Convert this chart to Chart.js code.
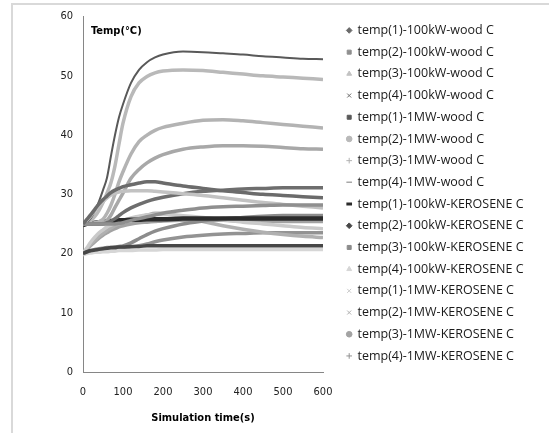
<!DOCTYPE html>
<html>
<head>
<meta charset="utf-8">
<script src="https://cdn.jsdelivr.net/npm/chart.js@4.4.0/dist/chart.umd.min.js"></script>
<style>
  html, body { margin: 0; padding: 0; background: #fff; overflow: hidden; }
  #frame { position: absolute; left: 11px; top: 3px; width: 620px; height: 520px; border: 2px solid #d9d9d9; }
  #wrap { position: absolute; left: 0; top: 0; width: 549px; height: 433px; }
</style>
</head>
<body>
<div id="frame"></div>
<div id="wrap"><canvas id="chart"></canvas></div>
<script>
// simulation time (s)
const times = [0, 10, 20, 30, 40, 50, 60, 70, 80, 90, 100, 120, 140, 160, 180, 200, 250, 300, 350, 400, 450, 500, 550, 600];

const seriesNames = [
    'temp(1)-100kW-wood C', 'temp(2)-100kW-wood C', 'temp(3)-100kW-wood C', 'temp(4)-100kW-wood C',
    'temp(1)-1MW-wood C', 'temp(2)-1MW-wood C', 'temp(3)-1MW-wood C', 'temp(4)-1MW-wood C',
    'temp(1)-100kW-KEROSENE C', 'temp(2)-100kW-KEROSENE C', 'temp(3)-100kW-KEROSENE C', 'temp(4)-100kW-KEROSENE C',
    'temp(1)-1MW-KEROSENE C', 'temp(2)-1MW-KEROSENE C', 'temp(3)-1MW-KEROSENE C', 'temp(4)-1MW-KEROSENE C'
];

const wood100k_1 = [25, 25.8, 26.6, 27.5, 28.4, 29.1, 29.7, 30.3, 30.7, 31, 31.3, 31.6, 31.9, 32.1, 32.1, 31.9, 31.4, 31, 30.6, 30.3, 30, 29.8, 29.6, 29.4];
const wood100k_2 = [25, 25, 25, 25, 25, 25, 25, 25, 25, 25.1, 25.2, 25.6, 25.9, 26.2, 26.5, 26.8, 27.3, 27.7, 27.9, 28, 28.1, 28.2, 28.2, 28.2];
const wood100k_3 = [25, 25.6, 26.4, 27.3, 28.1, 28.8, 29.4, 29.9, 30.2, 30.4, 30.5, 30.6, 30.6, 30.6, 30.5, 30.4, 30.1, 29.8, 29.4, 29, 28.6, 28.3, 28, 27.7];
const wood100k_4 = [25, 25, 25, 25, 25, 25, 25.2, 25.5, 25.9, 26.4, 26.9, 27.7, 28.3, 28.8, 29.2, 29.5, 30.1, 30.5, 30.7, 30.9, 31, 31.1, 31.1, 31.1];

const wood1M_1 = [25, 25.3, 26, 27.2, 28.8, 30.7, 32.8, 36.5, 40, 43, 45.2, 48.8, 51, 52.3, 53.1, 53.6, 54.1, 54, 53.8, 53.6, 53.3, 53.1, 52.9, 52.8];
const wood1M_2 = [25, 25.2, 25.6, 26.3, 27.3, 28.6, 30.2, 32, 34.8, 38.5, 42, 46.5, 48.8, 49.9, 50.5, 50.8, 51, 50.9, 50.6, 50.3, 50, 49.8, 49.6, 49.4];
const wood1M_3 = [25, 25, 25.1, 25.2, 25.4, 25.8, 26.8, 28.2, 30, 32.1, 33.8, 36.8, 38.9, 40, 40.8, 41.3, 42, 42.5, 42.6, 42.4, 42.1, 41.8, 41.5, 41.2];
const wood1M_4 = [25, 25, 25, 25, 25, 25.2, 25.6, 26.5, 27.8, 29, 30.2, 32.7, 34.2, 35.3, 36.1, 36.7, 37.6, 38, 38.2, 38.2, 38.1, 37.9, 37.7, 37.6];

const ker100k_1 = [24.8, 25, 25.1, 25.2, 25.3, 25.4, 25.4, 25.5, 25.5, 25.6, 25.6, 25.7, 25.7, 25.8, 25.8, 25.8, 25.9, 25.9, 25.9, 25.9, 25.9, 25.9, 25.9, 25.9];
const ker100k_2 = [20, 20.3, 20.5, 20.6, 20.7, 20.8, 20.9, 21, 21, 21.1, 21.1, 21.2, 21.2, 21.3, 21.3, 21.3, 21.3, 21.3, 21.3, 21.3, 21.3, 21.3, 21.3, 21.3];
const ker100k_3 = [20, 20.3, 20.5, 20.7, 20.8, 20.9, 21, 21, 21.1, 21.2, 21.3, 21.8, 22.5, 23.2, 23.8, 24.2, 25, 25.5, 25.9, 26.1, 26.3, 26.4, 26.4, 26.4];
const ker100k_4 = [19.8, 20, 20.1, 20.2, 20.2, 20.3, 20.3, 20.4, 20.4, 20.5, 20.5, 20.5, 20.6, 20.6, 20.6, 20.7, 20.7, 20.7, 20.7, 20.7, 20.7, 20.7, 20.7, 20.7];

const ker1M_1 = [20, 21, 22, 22.8, 23.5, 24, 24.5, 24.8, 25.1, 25.4, 25.6, 26, 26.3, 26.5, 26.6, 26.6, 26.4, 26.1, 25.7, 25.3, 25, 24.7, 24.4, 24.2];
const ker1M_2 = [20, 20.8, 21.6, 22.3, 22.9, 23.4, 23.9, 24.3, 24.7, 25, 25.3, 25.8, 26.2, 26.5, 26.8, 26.8, 26.2, 25.4, 24.7, 24.1, 23.6, 23.2, 22.9, 22.7];
const ker1M_3 = [20, 20.7, 21.4, 22, 22.6, 23.1, 23.5, 23.9, 24.2, 24.5, 24.7, 25, 25.2, 25.3, 25.4, 25.5, 25.6, 25.6, 25.6, 25.5, 25.5, 25.4, 25.4, 25.4];
const ker1M_4 = [20, 20.2, 20.4, 20.5, 20.6, 20.7, 20.8, 20.8, 20.9, 20.9, 21, 21.1, 21.3, 21.6, 22, 22.3, 22.8, 23.1, 23.3, 23.4, 23.5, 23.5, 23.5, 23.5];

const seriesValues = [
    wood100k_1, wood100k_2, wood100k_3, wood100k_4,
    wood1M_1, wood1M_2, wood1M_3, wood1M_4,
    ker100k_1, ker100k_2, ker100k_3, ker100k_4,
    ker1M_1, ker1M_2, ker1M_3, ker1M_4
];

const yTicks = [0, 10, 20, 30, 40, 50, 60];
const xTicks = [0, 100, 200, 300, 400, 500, 600];

// styles
const lineColors = [
    '#6b6b6b', '#8f8f8f', '#c2c2c2', '#6e6e6e',
    '#595959', '#b9b9b9', '#b3b3b3', '#a8a8a8',
    '#2b2b2b', '#474747', '#8c8c8c', '#d6d6d6',
    '#cacaca', '#b0b0b0', '#a3a3a3', '#939393'
];
const lineWidths = [3.5, 3.5, 3.5, 3.5, 2, 3.5, 3.5, 3.5, 4.5, 3.5, 3.5, 3.5, 3.5, 3.5, 3.5, 3.5];
const markers = ['rectRot', 'rect', 'triangle', 'crossRot', 'rect', 'circle', 'cross', 'line',
                 'line', 'rectRot', 'rect', 'triangle', 'crossRot', 'crossRot', 'circle', 'cross'];

const NARROW = '"Liberation Sans Narrow", "DejaVu Sans Condensed", "Liberation Sans", sans-serif';
const LEGEND_FONT = '"Open Sans", "Noto Sans", sans-serif';
const LEGEND_SIZE = 12.5;
const LEGEND_PAD = 9.2;
const LEGEND_BOX = 4;
const LEGEND_LEFT = 338;

// right padding so the legend column starts at LEGEND_LEFT
const mctx = document.createElement('canvas').getContext('2d');
mctx.font = LEGEND_SIZE + 'px ' + LEGEND_FONT;
const maxText = Math.max(...seriesNames.map(n => mctx.measureText(n).width));
const legendWidth = LEGEND_PAD + LEGEND_BOX + LEGEND_SIZE / 2 + maxText + 10;
const padRight = Math.max(0, 549 - LEGEND_LEFT - legendWidth);

const datasets = seriesNames.map((name, i) => ({
    label: name,
    data: times.map((t, j) => ({ x: t, y: seriesValues[i][j] })),
    borderColor: lineColors[i],
    backgroundColor: lineColors[i],
    borderWidth: lineWidths[i],
    pointRadius: 0,
    pointStyle: markers[i],
    cubicInterpolationMode: 'monotone',
    fill: false
}));

const yLabel = {
    id: 'yLabel',
    afterDraw(chart) {
        const c = chart.ctx;
        c.save();
        c.font = 'bold 11px ' + NARROW;
        c.fillStyle = '#000';
        c.textAlign = 'left';
        c.textBaseline = 'middle';
        c.fillText('Temp(°C)', chart.chartArea.left + 8, chart.chartArea.top + 15);
        c.restore();
    }
};

new Chart(document.getElementById('chart'), {
    type: 'line',
    data: { datasets: datasets },
    options: {
        responsive: true,
        maintainAspectRatio: false,
        animation: false,
        layout: { padding: { left: 0, top: 15, right: padRight, bottom: 0 } },
        plugins: {
            legend: {
                position: 'right',
                align: 'start',
                maxWidth: 300,
                labels: {
                    usePointStyle: true,
                    boxWidth: LEGEND_BOX,
                    boxHeight: LEGEND_BOX,
                    padding: LEGEND_PAD,
                    color: '#1a1a1a',
                    font: { family: LEGEND_FONT, size: LEGEND_SIZE },
                    generateLabels: chart => chart.data.datasets.map((ds, i) => ({
                        text: ds.label,
                        fillStyle: ds.borderColor,
                        strokeStyle: ds.borderColor,
                        lineWidth: markers[i] === 'line' ? (i === 8 ? 3 : 1.5) : 1,
                        pointStyle: ds.pointStyle,
                        fontColor: '#1a1a1a',
                        hidden: false,
                        datasetIndex: i
                    }))
                }
            },
            tooltip: { enabled: false }
        },
        scales: {
            x: {
                type: 'linear',
                min: 0,
                max: 600,
                afterBuildTicks: s => { s.ticks = xTicks.map(v => ({ value: v })); },
                grid: { display: false, drawTicks: false },
                border: { display: true, color: '#868686', width: 1 },
                ticks: { color: '#222', padding: 14, font: { family: NARROW, size: 11 } },
                title: {
                    display: true,
                    text: 'Simulation time(s)',
                    color: '#000',
                    font: { family: NARROW, size: 11, weight: 'bold' },
                    padding: { top: 0, bottom: 8 }
                },
                afterFit: s => { s.height = 61; }
            },
            y: {
                min: 0,
                max: 60,
                afterBuildTicks: s => { s.ticks = yTicks.map(v => ({ value: v })); },
                grid: { display: false, drawTicks: false },
                border: { display: true, color: '#868686', width: 1 },
                ticks: { color: '#222', padding: 10, font: { family: NARROW, size: 11 } },
                afterFit: s => { s.width = 83; }
            },
            gap: {
                position: 'right',
                display: true,
                grid: { display: false, drawTicks: false },
                border: { display: false },
                ticks: { display: false },
                afterFit: s => { s.width = 15; }
            }
        }
    },
    plugins: [yLabel]
});
</script>
</body>
</html>
